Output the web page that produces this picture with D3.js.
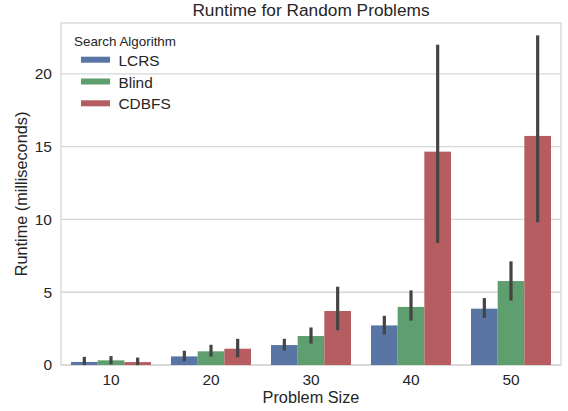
<!DOCTYPE html>
<html>
<head>
<meta charset="utf-8">
<script src="https://cdn.jsdelivr.net/npm/d3@7"></script>
<style>
  html, body { margin: 0; padding: 0; background: #fff; }
  svg { display: block; font-family: "Liberation Sans", Arial, sans-serif; }
</style>
</head>
<body>
<svg id="chart" width="568" height="411"></svg>
<script>
const categories = ["10", "20", "30", "40", "50"];
const algorithms = ["LCRS", "Blind", "CDBFS"];
const lcrsValues  = [0.21, 0.59, 1.37, 2.72, 3.87];
const blindValues = [0.32, 0.94, 1.99, 3.99, 5.77];
const cdbfsValues = [0.20, 1.12, 3.71, 14.66, 15.74];
const lcrsLow   = [0.10, 0.37, 1.10, 2.20, 3.34];
const lcrsHigh  = [0.45, 0.87, 1.69, 3.27, 4.49];
const blindLow  = [0.15, 0.69, 1.58, 3.16, 4.54];
const blindHigh = [0.50, 1.28, 2.47, 5.02, 7.01];
const cdbfsLow  = [0.10, 0.64, 2.50, 8.50, 9.92];
const cdbfsHigh = [0.40, 1.69, 5.27, 21.90, 22.54];
const yTicks = [0, 5, 10, 15, 20];
const colors = ["#5875a4", "#5f9e6e", "#b55d60"];

const series = [
  {name: algorithms[0], values: lcrsValues, lo: lcrsLow, hi: lcrsHigh},
  {name: algorithms[1], values: blindValues, lo: blindLow, hi: blindHigh},
  {name: algorithms[2], values: cdbfsValues, lo: cdbfsLow, hi: cdbfsHigh}
];

const svg = d3.select("#chart");
const m = {left: 61, right: 561, top: 23, bottom: 365};

const x = d3.scaleBand().domain(categories).range([m.left, m.right]).paddingInner(0.2).paddingOuter(0.1);
const xs = d3.scaleBand().domain(algorithms).range([0, x.bandwidth()]);
const y = d3.scaleLinear().domain([0, 23.5]).range([m.bottom, m.top]);
const color = d3.scaleOrdinal().domain(algorithms).range(colors);

// grid
svg.append("g").selectAll("line").data(yTicks).join("line")
  .attr("x1", m.left).attr("x2", m.right)
  .attr("y1", d => y(d)).attr("y2", d => y(d))
  .attr("stroke", "#d6d6d6").attr("stroke-width", 1.3);

// frame
svg.append("rect").attr("x", m.left).attr("y", m.top)
  .attr("width", m.right - m.left).attr("height", m.bottom - m.top)
  .attr("fill", "none").attr("stroke", "#d6d6d6").attr("stroke-width", 1.3);

// bars
const flat = [];
series.forEach(s => categories.forEach((c, i) => flat.push({c, a: s.name, v: s.values[i], lo: s.lo[i], hi: s.hi[i]})));

svg.append("g").selectAll("rect").data(flat).join("rect")
  .attr("x", d => x(d.c) + xs(d.a))
  .attr("width", xs.bandwidth())
  .attr("y", d => y(d.v))
  .attr("height", d => y(0) - y(d.v))
  .attr("fill", d => color(d.a));

// error bars
svg.append("g").selectAll("line").data(flat).join("line")
  .attr("x1", d => x(d.c) + xs(d.a) + xs.bandwidth() / 2)
  .attr("x2", d => x(d.c) + xs(d.a) + xs.bandwidth() / 2)
  .attr("y1", d => y(d.lo)).attr("y2", d => y(d.hi))
  .attr("stroke", "#444444").attr("stroke-width", 3.2).attr("stroke-linecap", "square");

// axes (text only)
const xAxis = d3.axisBottom(x).tickSize(0).tickPadding(9);
const gx = svg.append("g").attr("transform", `translate(0,${m.bottom})`).call(xAxis);
gx.select(".domain").remove();
gx.selectAll("text").attr("font-size", "15.5px").attr("fill", "#262626");

const yAxis = d3.axisLeft(y).tickValues(yTicks).tickSize(0).tickPadding(9);
const gy = svg.append("g").attr("transform", `translate(${m.left},0)`).call(yAxis);
gy.select(".domain").remove();
gy.selectAll("text").attr("font-size", "15.5px").attr("fill", "#262626");
svg.selectAll(".tick line").remove();
svg.selectAll("g").filter(function(){ return this.getAttribute("font-family"); }).attr("font-family", null);

// labels
svg.append("text").attr("x", (m.left + m.right) / 2).attr("y", 16)
  .attr("text-anchor", "middle").attr("font-size", "17.3px").attr("fill", "#262626")
  .text("Runtime for Random Problems");
svg.append("text").attr("x", (m.left + m.right) / 2).attr("y", 403)
  .attr("text-anchor", "middle").attr("font-size", "16.3px").attr("fill", "#262626")
  .text("Problem Size");
svg.append("text").attr("transform", `translate(27,${(m.top + m.bottom) / 2}) rotate(-90)`)
  .attr("text-anchor", "middle").attr("font-size", "16.3px").attr("fill", "#262626")
  .text("Runtime (milliseconds)");

// legend
const lg = svg.append("g");
lg.append("text").attr("x", 74).attr("y", 46).attr("font-size", "13.4px").attr("fill", "#262626")
  .text("Search Algorithm");
const items = lg.selectAll("g.item").data(algorithms).join("g").attr("class", "item")
  .attr("transform", (d, i) => `translate(0,${65.7 + i * 21.8})`);
items.append("rect").attr("x", 81).attr("y", -9).attr("width", 29).attr("height", 6)
  .attr("fill", d => color(d));
items.append("text").attr("x", 118.5).attr("y", 0).attr("font-size", "15.4px").attr("fill", "#262626")
  .text(d => d);
</script>
</body>
</html>
